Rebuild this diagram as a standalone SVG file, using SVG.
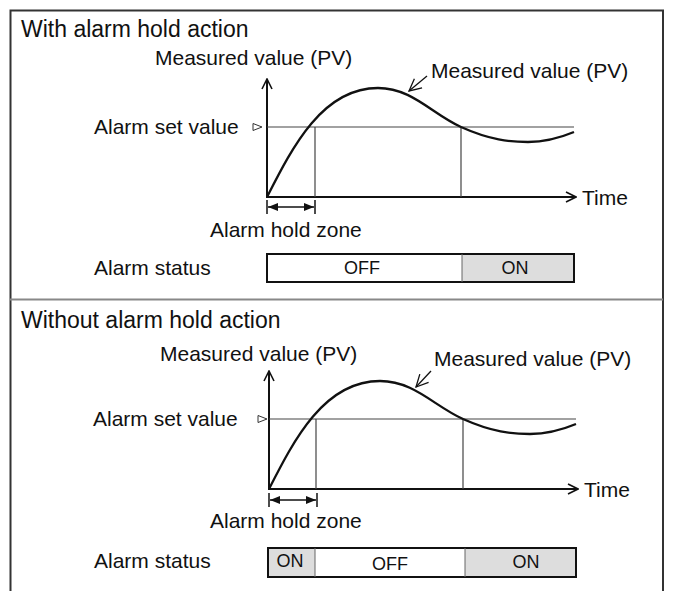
<svg xmlns="http://www.w3.org/2000/svg" width="673" height="591" viewBox="0 0 673 591">
<defs>
<style>
text{font-family:"Liberation Sans",Arial,sans-serif;fill:#111}
.t{font-size:23px}
.l{font-size:21px}
.s{font-size:18px}
.ax{stroke:#111;stroke-width:2;fill:none}
.thin{stroke:#444;stroke-width:1.2;fill:none}
.cur{stroke:#111;stroke-width:2.3;fill:none}
.bar{stroke:#111;stroke-width:2}
.seg{stroke:#666;stroke-width:1}
</style>
<marker id="open" viewBox="0 0 12 12" refX="11" refY="6" markerWidth="12" markerHeight="12" markerUnits="userSpaceOnUse" orient="auto">
<path d="M1,1 L11,6 L1,11" fill="none" stroke="#111" stroke-width="1.6"/>
</marker>
<marker id="ptr" viewBox="0 0 14 14" refX="13" refY="7" markerWidth="14" markerHeight="14" markerUnits="userSpaceOnUse" orient="auto">
<path d="M1,1 L13,7 L1,13" fill="none" stroke="#111" stroke-width="1.3"/>
</marker>
<marker id="fill" viewBox="0 0 10 10" refX="10" refY="5" markerWidth="10" markerHeight="10" markerUnits="userSpaceOnUse" orient="auto">
<path d="M0,1 L10,5 L0,9 Z" fill="#111"/>
</marker>
<marker id="fillr" viewBox="0 0 10 10" refX="0" refY="5" markerWidth="10" markerHeight="10" markerUnits="userSpaceOnUse" orient="auto">
<path d="M10,1 L0,5 L10,9 Z" fill="#111"/>
</marker>
</defs>
<rect width="673" height="591" fill="#fff"/>
<g id="frame">
<path d="M10.5,600 V10.5 H663 V600" fill="none" stroke="#333" stroke-width="2"/>
<line x1="10" y1="299.5" x2="663" y2="299.5" stroke="#888" stroke-width="2"/>
</g>

<g id="panel-with">
<text class="t" x="21" y="37">With alarm hold action</text>
<text class="l" x="155" y="65">Measured value (PV)</text>
<text class="l" x="431" y="78">Measured value (PV)</text>
<text class="l" x="94" y="134">Alarm set value</text>
<text class="l" x="582" y="205">Time</text>
<text class="l" x="210" y="237">Alarm hold zone</text>
<text class="l" x="94" y="275">Alarm status</text>
<g id="axes-with">
<line class="ax" x1="267" y1="198" x2="267" y2="79" marker-end="url(#open)"/>
<line class="ax" x1="266" y1="197" x2="576" y2="197" marker-end="url(#open)"/>
<line class="thin" x1="267" y1="127" x2="574" y2="127"/>
<path d="M253,123.5 L262,127 L253,130.5 Z" fill="none" stroke="#333" stroke-width="1"/>
<line class="thin" x1="315" y1="127" x2="315" y2="197"/>
<line class="thin" x1="461" y1="127" x2="461" y2="197"/>
</g>
<path id="pv-with" class="cur" d="M267,197 C292,148 322,88 378,88 C412,88 432,114 461,127 C490,140 510,142 528,142 C548,142 562,137 574,132"/>
<g id="connectors-with">
<line x1="427" y1="76" x2="409" y2="91" stroke="#111" stroke-width="1.3" marker-end="url(#ptr)"/>
<line x1="267" y1="200" x2="267" y2="214" stroke="#111" stroke-width="1.5"/>
<line x1="315" y1="200" x2="315" y2="214" stroke="#111" stroke-width="1.5"/>
<line x1="268" y1="207" x2="314" y2="207" stroke="#111" stroke-width="1.5" marker-start="url(#fillr)" marker-end="url(#fill)"/>
</g>
<g id="status-with">
<rect x="267" y="254" width="195" height="28" fill="#fff"/>
<rect x="462" y="254" width="112" height="28" fill="#ddd"/>
<rect class="bar" x="267" y="254" width="307" height="28" fill="none"/>
<line class="seg" x1="462" y1="254" x2="462" y2="282"/>
<text class="s" x="362" y="274" text-anchor="middle">OFF</text>
<text class="s" x="515" y="274" text-anchor="middle">ON</text>
</g>
</g>

<g id="panel-without">
<text class="t" x="21" y="328">Without alarm hold action</text>
<text class="l" x="160" y="361">Measured value (PV)</text>
<text class="l" x="434" y="366">Measured value (PV)</text>
<text class="l" x="93" y="426">Alarm set value</text>
<text class="l" x="584" y="497">Time</text>
<text class="l" x="210" y="528">Alarm hold zone</text>
<text class="l" x="94" y="568">Alarm status</text>
<g id="axes-without">
<line class="ax" x1="269" y1="490" x2="269" y2="371" marker-end="url(#open)"/>
<line class="ax" x1="268" y1="489" x2="578" y2="489" marker-end="url(#open)"/>
<line class="thin" x1="269" y1="419" x2="576" y2="419"/>
<path d="M258,415.5 L267,419 L258,422.5 Z" fill="none" stroke="#333" stroke-width="1"/>
<line class="thin" x1="316" y1="419" x2="316" y2="489"/>
<line class="thin" x1="463" y1="419" x2="463" y2="489"/>
</g>
<path id="pv-without" class="cur" d="M269,489 C294,440 324,381 380,381 C414,381 434,406 463,419 C492,432 512,434 530,434 C550,434 564,429 576,424"/>
<g id="connectors-without">
<line x1="431" y1="371" x2="416" y2="387" stroke="#111" stroke-width="1.3" marker-end="url(#ptr)"/>
<line x1="269" y1="493" x2="269" y2="507" stroke="#111" stroke-width="1.5"/>
<line x1="317" y1="493" x2="317" y2="507" stroke="#111" stroke-width="1.5"/>
<line x1="270" y1="500" x2="316" y2="500" stroke="#111" stroke-width="1.5" marker-start="url(#fillr)" marker-end="url(#fill)"/>
</g>
<g id="status-without">
<rect x="268" y="548" width="47" height="29" fill="#ddd"/>
<rect x="315" y="548" width="150" height="29" fill="#fff"/>
<rect x="465" y="548" width="111" height="29" fill="#ddd"/>
<rect class="bar" x="268" y="548" width="308" height="29" fill="none"/>
<line class="seg" x1="315" y1="548" x2="315" y2="577"/>
<line class="seg" x1="465" y1="548" x2="465" y2="577"/>
<text class="s" x="290" y="567" text-anchor="middle">ON</text>
<text class="s" x="390" y="570" text-anchor="middle">OFF</text>
<text class="s" x="526" y="568" text-anchor="middle">ON</text>
</g>
</g>
</svg>
